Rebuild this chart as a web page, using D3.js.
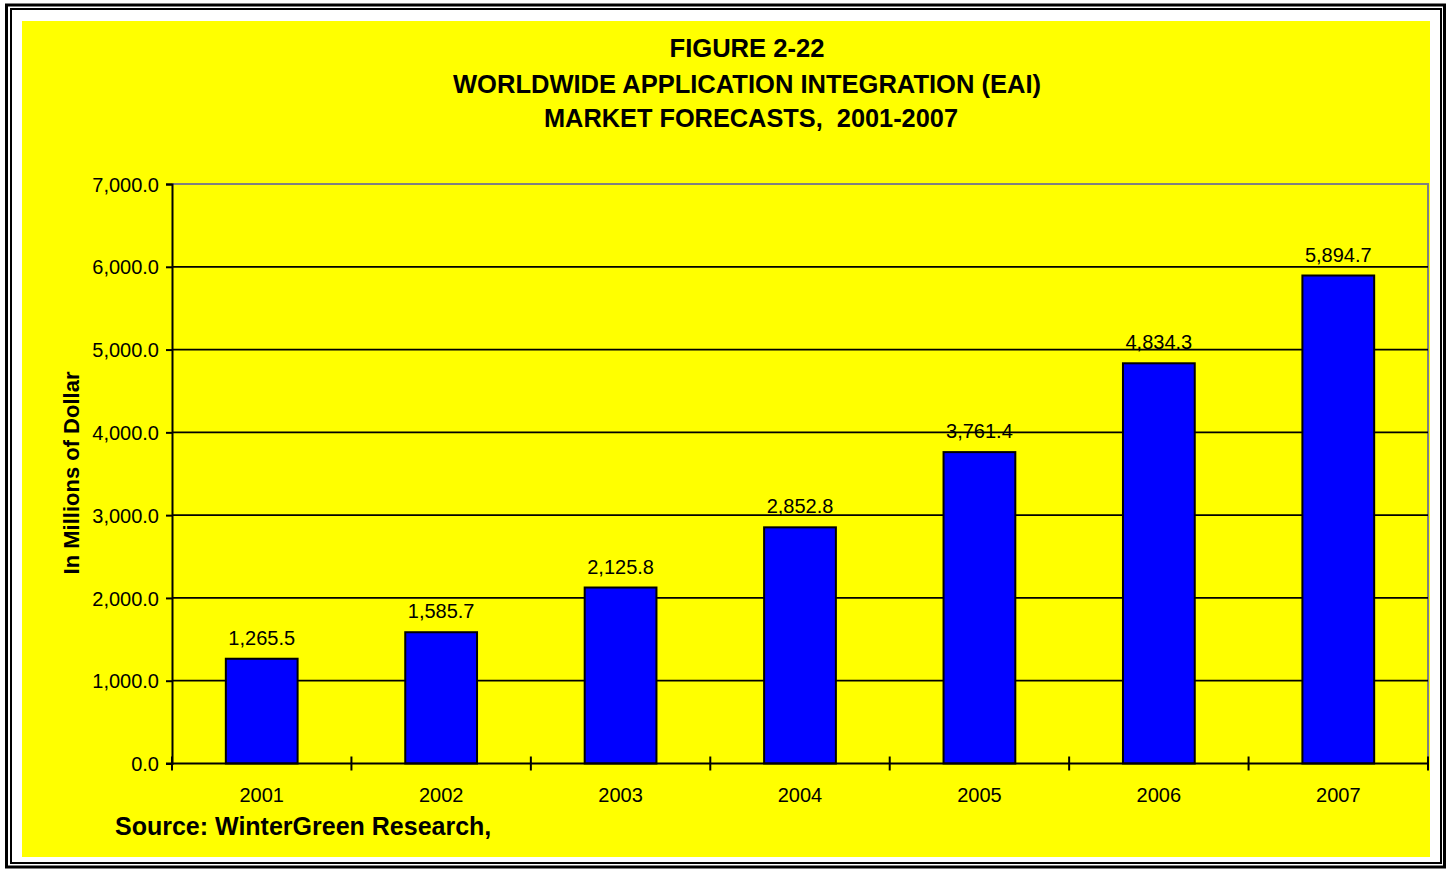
<!DOCTYPE html>
<html lang="en">
<head>
<meta charset="UTF-8">
<script src="https://d3js.org/d3.v7.min.js"></script>
<style>
  body { margin: 0; background: #fff; }
  svg text { font-family: Arial, "Liberation Sans", sans-serif; fill: #000; }
  .title { white-space: pre; }
</style>
</head>
<body>
<script>
// chart data
const years = ["2001", "2002", "2003", "2004", "2005", "2006", "2007"];
const values = [1265.5, 1585.7, 2125.8, 2852.8, 3761.4, 4834.3, 5894.7];
const yTicks = [0, 1000, 2000, 3000, 4000, 5000, 6000, 7000];
const titleLines = ["FIGURE 2-22", "WORLDWIDE APPLICATION INTEGRATION (EAI)", "MARKET FORECASTS,  2001-2007"];
const yTitle = "In Millions of Dollar";
const sourceNote = "Source: WinterGreen Research,";

const w = 1454, h = 869;
const plot = {left: 172, top: 184, right: 1428, bottom: 763.5};

const svg = d3.select("body").append("svg")
  .attr("width", w)
  .attr("height", h);

// double frame round the chart
svg.append("rect").attr("x", 6.5).attr("y", 5).attr("width", 1438).attr("height", 862)
  .attr("fill", "#fff").attr("stroke", "#000").attr("stroke-width", 3);
svg.append("rect").attr("x", 11).attr("y", 9).attr("width", 1430).attr("height", 854)
  .attr("fill", "#fff").attr("stroke", "#000").attr("stroke-width", 2);

// yellow chart area
svg.append("rect").attr("x", 22).attr("y", 21).attr("width", 1408).attr("height", 836)
  .attr("fill", "#ffff00");

// scales
const x = d3.scaleBand()
  .domain(years)
  .range([plot.left, plot.right])
  .paddingInner(0.6)
  .paddingOuter(0.3);

const y = d3.scaleLinear()
  .domain([0, 7000])
  .range([plot.bottom, plot.top]);

// title
const titleY = [57, 93, 127];
const titleW = [155, 588, 414];
svg.selectAll(".title").data(titleLines).enter()
  .append("text")
  .attr("class", "title")
  .attr("xml:space", "preserve")
  .attr("x", 750)
  .attr("y", (d, i) => titleY[i])
  .attr("text-anchor", "middle")
  .attr("font-size", 26)
  .attr("font-weight", "bold")
  .attr("textLength", (d, i) => titleW[i])
  .attr("lengthAdjust", "spacingAndGlyphs")
  .text(d => d);
// first two lines sit a little left of the third
svg.selectAll(".title").attr("x", (d, i) => i === 2 ? 751 : 747);

// plot frame: grey top and right
svg.append("path")
  .attr("d", `M${plot.left},${plot.top}H${plot.right}V${plot.bottom}`)
  .attr("fill", "none")
  .attr("stroke", "#808080")
  .attr("stroke-width", 2);

// gridlines
svg.append("g")
  .selectAll("line")
  .data(yTicks.filter(d => d > 0 && d < 7000))
  .enter().append("line")
  .attr("x1", plot.left).attr("x2", plot.right)
  .attr("y1", d => y(d)).attr("y2", d => y(d))
  .attr("stroke", "#000")
  .attr("stroke-width", 1.8);

// bars
svg.append("g")
  .selectAll("rect")
  .data(values)
  .enter().append("rect")
  .attr("x", (d, i) => x(years[i]))
  .attr("y", d => y(d))
  .attr("width", x.bandwidth())
  .attr("height", d => y(0) - y(d))
  .attr("fill", "#0000ff")
  .attr("stroke", "#000")
  .attr("stroke-width", 2);

// value labels
svg.append("g")
  .selectAll("text")
  .data(values)
  .enter().append("text")
  .attr("x", (d, i) => x(years[i]) + x.bandwidth() / 2)
  .attr("y", d => y(d) - 14)
  .attr("text-anchor", "middle")
  .attr("font-size", 20)
  .text(d => d3.format(",.1f")(d));

// y axis
const yAxis = d3.axisLeft(y)
  .tickValues(yTicks)
  .tickFormat(d3.format(",.1f"))
  .tickSize(6)
  .tickPadding(7);

const gy = svg.append("g")
  .attr("transform", `translate(${plot.left},0)`)
  .call(yAxis);
gy.select(".domain").attr("stroke", "#000").attr("stroke-width", 2);
gy.selectAll(".tick line").attr("stroke", "#000").attr("stroke-width", 2);
gy.selectAll(".tick text")
  .attr("font-size", 20)
  .attr("font-family", "Arial, 'Liberation Sans', sans-serif")
  .attr("fill", "#000")
  .attr("dy", "0.36em");

// x axis line and boundary ticks
svg.append("line")
  .attr("x1", plot.left - 6).attr("x2", plot.right)
  .attr("y1", plot.bottom).attr("y2", plot.bottom)
  .attr("stroke", "#000").attr("stroke-width", 2);

svg.append("g")
  .selectAll("line")
  .data(d3.range(years.length + 1))
  .enter().append("line")
  .attr("x1", i => plot.left + i * x.step())
  .attr("x2", i => plot.left + i * x.step())
  .attr("y1", plot.bottom - 7)
  .attr("y2", plot.bottom + 7)
  .attr("stroke", "#000")
  .attr("stroke-width", 2);

// x labels
const gx = svg.append("g")
  .attr("transform", `translate(0,${plot.bottom})`)
  .call(d3.axisBottom(x).tickSize(0).tickPadding(24));
gx.select(".domain").remove();
gx.selectAll(".tick text")
  .attr("font-size", 20)
  .attr("font-family", "Arial, 'Liberation Sans', sans-serif")
  .attr("fill", "#000");

// y axis title
svg.append("text")
  .attr("transform", "translate(79,473) rotate(-90)")
  .attr("text-anchor", "middle")
  .attr("font-size", 22)
  .attr("font-weight", "bold")
  .text(yTitle);

// source note
svg.append("text")
  .attr("x", 115)
  .attr("y", 835)
  .attr("font-size", 25)
  .attr("font-weight", "bold")
  .text(sourceNote);
</script>
</body>
</html>
